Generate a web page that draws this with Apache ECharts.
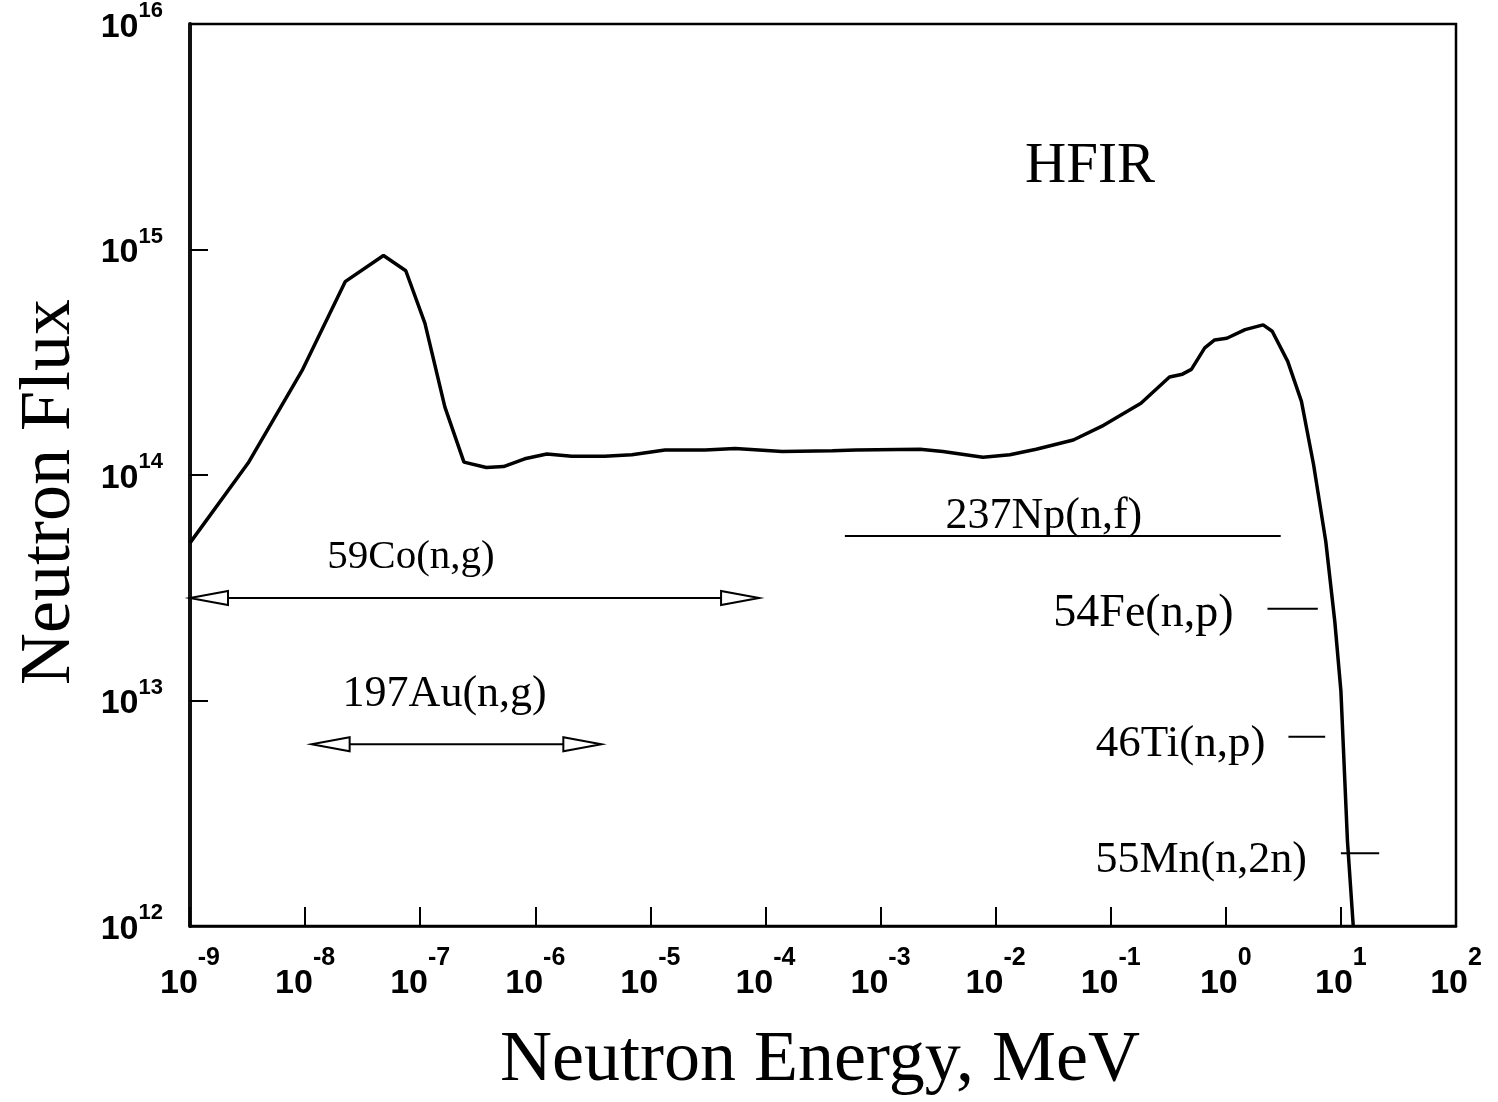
<!DOCTYPE html>
<html>
<head>
<meta charset="utf-8">
<title>HFIR neutron spectrum</title>
<script src="https://cdn.jsdelivr.net/npm/echarts@6/dist/echarts.min.js"></script>
<style>
  html, body { margin: 0; padding: 0; background: #ffffff; }
  #chart { width: 1498px; height: 1102px; }
</style>
</head>
<body>
<div id="chart"></div>
<script>
// Neutron energy (MeV) and flux of the HFIR spectrum
const energy = [1e-9, 3.2e-9, 9.4e-9, 2.23e-8, 4.8e-8, 7.5e-8, 1.1e-7, 1.64e-7, 2.4e-7, 3.76e-7,
  5.3e-7, 8.1e-7, 1.26e-6, 2.07e-6, 4.0e-6, 6.9e-6, 1.34e-5, 2.99e-5, 5.46e-5, 1.4e-4,
  3.82e-4, 6.07e-4, 2.2e-3, 3.48e-3, 7.76e-3, 1.33e-2, 2.25e-2, 4.73e-2, 8.67e-2, 0.183,
  0.324, 0.42, 0.502, 0.656, 0.80, 1.02, 1.47, 2.11, 2.53, 3.45,
  4.54, 5.79, 7.39, 8.85, 10.0, 11.4, 12.8];
const flux = [5.0e13, 1.13e14, 2.9e14, 7.2e14, 9.4e14, 8.05e14, 4.7e14, 2.0e14, 1.14e14, 1.08e14,
  1.09e14, 1.18e14, 1.24e14, 1.21e14, 1.21e14, 1.23e14, 1.29e14, 1.29e14, 1.31e14, 1.27e14,
  1.28e14, 1.29e14, 1.30e14, 1.27e14, 1.20e14, 1.23e14, 1.30e14, 1.43e14, 1.66e14, 2.08e14,
  2.72e14, 2.80e14, 2.94e14, 3.66e14, 3.97e14, 4.04e14, 4.41e14, 4.63e14, 4.34e14, 3.19e14,
  2.12e14, 1.11e14, 5.07e13, 2.24e13, 1.10e13, 2.38e12, 1.0e12];

// Decade tick labels (exponents of ten)
const xExponents = ['-9', '-8', '-7', '-6', '-5', '-4', '-3', '-2', '-1', '0', '1', '2'];
const yExponents = ['12', '13', '14', '15', '16'];

// Capture reactions: energy span drawn as a double arrow
const arrowNames = ['59Co(n,g)', '197Au(n,g)'];
const arrowLow = [1e-9, 1.14e-8];
const arrowHigh = [8.8e-5, 3.75e-6];
const arrowFlux = [2.85e13, 6.4e12];

// Threshold reactions: energy span drawn as a plain bar
const rangeNames = ['237Np(n,f)', '54Fe(n,p)', '46Ti(n,p)', '55Mn(n,2n)'];
const rangeLow = [4.9e-4, 2.3, 3.5, 10.0];
const rangeHigh = [3.0, 6.3, 7.3, 21.5];
const rangeFlux = [5.36e13, 2.55e13, 6.9e12, 2.1e12];

const SERIF = '"Liberation Serif", "Times New Roman", serif';
const SANS = '"Liberation Sans", Arial, sans-serif';

// Label placement (pixels) relative to each arrow's low-energy tip
const arrowLabelPlace = [{ dx: 221, dy: -41, size: 41 }, { dx: 133, dy: -50, size: 44 }];
// Label placement for the bars: above the bar, or to the left of it
const rangeLabelPlace = [
  { side: 'above', dx: 199, dy: -20, size: 44 },
  { side: 'left', gap: 34, dy: 5, size: 46 },
  { side: 'left', gap: 23, dy: 7, size: 45 },
  { side: 'left', gap: 34, dy: 7, size: 44 }
];

const curve = energy.map((e, i) => [e, flux[i]]);
const arrows = arrowLow.map((lo, i) => [lo, arrowHigh[i], arrowFlux[i]]);
const ranges = rangeLow.map((lo, i) => [lo, rangeHigh[i], rangeFlux[i]]);

const HEAD_L = 38, HEAD_H = 7;

function renderArrow(params, api) {
  const i = params.dataIndex;
  const a = api.coord([api.value(0), api.value(2)]);
  const b = api.coord([api.value(1), api.value(2)]);
  const place = arrowLabelPlace[i];
  const headStyle = { fill: '#ffffff', stroke: '#000000', lineWidth: 2 };
  return {
    type: 'group',
    children: [
      { type: 'line', shape: { x1: a[0] + HEAD_L, y1: a[1], x2: b[0] - HEAD_L, y2: b[1] },
        style: { stroke: '#000000', lineWidth: 2 } },
      { type: 'polygon', shape: { points: [[a[0], a[1]], [a[0] + HEAD_L, a[1] - HEAD_H], [a[0] + HEAD_L, a[1] + HEAD_H]] },
        style: headStyle },
      { type: 'polygon', shape: { points: [[b[0], b[1]], [b[0] - HEAD_L, b[1] - HEAD_H], [b[0] - HEAD_L, b[1] + HEAD_H]] },
        style: headStyle },
      { type: 'text', style: { text: arrowNames[i], x: a[0] + place.dx, y: a[1] + place.dy,
        fill: '#000000', font: place.size + 'px ' + SERIF, align: 'center', verticalAlign: 'middle' } }
    ]
  };
}

function renderRange(params, api) {
  const i = params.dataIndex;
  const a = api.coord([api.value(0), api.value(2)]);
  const b = api.coord([api.value(1), api.value(2)]);
  const place = rangeLabelPlace[i];
  const text = place.side === 'above'
    ? { text: rangeNames[i], x: a[0] + place.dx, y: a[1] + place.dy, align: 'center' }
    : { text: rangeNames[i], x: a[0] - place.gap, y: a[1] + place.dy, align: 'right' };
  text.fill = '#000000';
  text.font = place.size + 'px ' + SERIF;
  text.verticalAlign = 'middle';
  return {
    type: 'group',
    children: [
      { type: 'line', shape: { x1: a[0], y1: a[1], x2: b[0], y2: b[1] },
        style: { stroke: '#000000', lineWidth: 2 } },
      { type: 'text', style: text }
    ]
  };
}

const chart = echarts.init(document.getElementById('chart'), null, { renderer: 'canvas' });

chart.setOption({
  animation: false,
  backgroundColor: '#ffffff',
  grid: {
    left: 190, right: 42, top: 23, bottom: 176,
    show: true, borderColor: '#000000', borderWidth: 2.5, backgroundColor: 'transparent'
  },
  xAxis: {
    type: 'log', logBase: 10, min: 1e-9, max: 100, interval: 1,
    axisLine: { show: true, lineStyle: { color: '#000000', width: 2.5 } },
    axisTick: { show: true, inside: true, length: 19, lineStyle: { color: '#000000', width: 2 } },
    splitLine: { show: false },
    axisLabel: {
      margin: 20,
      fontSize: 34, fontFamily: SANS, fontWeight: 'bold', color: '#000000',
      formatter: function (v) {
        const k = Math.round(Math.log10(v)) + 9;
        return '{b|10}{s|' + xExponents[k] + '}';
      },
      rich: {
        b: { fontSize: 34, lineHeight: 76, fontFamily: SANS, fontWeight: 'bold', color: '#000000' },
        s: { fontSize: 25, lineHeight: 25, fontFamily: SANS, fontWeight: 'bold', color: '#000000', verticalAlign: 'top' }
      }
    }
  },
  yAxis: {
    type: 'log', logBase: 10, min: 1e12, max: 1e16, interval: 1,
    axisLine: { show: true, lineStyle: { color: '#111111', width: 4 } },
    axisTick: { show: true, inside: true, length: 18, lineStyle: { color: '#000000', width: 2 } },
    splitLine: { show: false },
    axisLabel: {
      margin: 27,
      fontSize: 34, fontFamily: SANS, fontWeight: 'bold', color: '#000000',
      formatter: function (v) {
        const k = Math.round(Math.log10(v)) - 12;
        return '{b|10}{s|' + yExponents[k] + '}';
      },
      rich: {
        b: { fontSize: 34, lineHeight: 48, fontFamily: SANS, fontWeight: 'bold', color: '#000000', padding: [7, 0, 0, 0] },
        s: { fontSize: 22, lineHeight: 22, fontFamily: SANS, fontWeight: 'bold', color: '#000000', verticalAlign: 'top' }
      }
    }
  },
  graphic: [
    { type: 'text', x: 50, y: 492, rotation: Math.PI / 2,
      style: { text: 'Neutron Flux', font: '72px ' + SERIF, fill: '#000000', align: 'center', verticalAlign: 'middle' } },
    { type: 'text', x: 820, y: 1061,
      style: { text: 'Neutron Energy, MeV', font: '72px ' + SERIF, fill: '#000000', align: 'center', verticalAlign: 'middle' } },
    { type: 'text', x: 1090, y: 167,
      style: { text: 'HFIR', font: '57px ' + SERIF, fill: '#000000', align: 'center', verticalAlign: 'middle' } }
  ],
  series: [
    {
      name: 'HFIR', type: 'line', data: curve, showSymbol: false, smooth: false,
      lineStyle: { color: '#000000', width: 3.5 }, z: 3
    },
    {
      type: 'custom', data: arrows, encode: { x: [0, 1], y: 2 }, clip: false,
      renderItem: renderArrow, z: 4
    },
    {
      type: 'custom', data: ranges, encode: { x: [0, 1], y: 2 }, clip: false,
      renderItem: renderRange, z: 4
    }
  ]
});
</script>
</body>
</html>
